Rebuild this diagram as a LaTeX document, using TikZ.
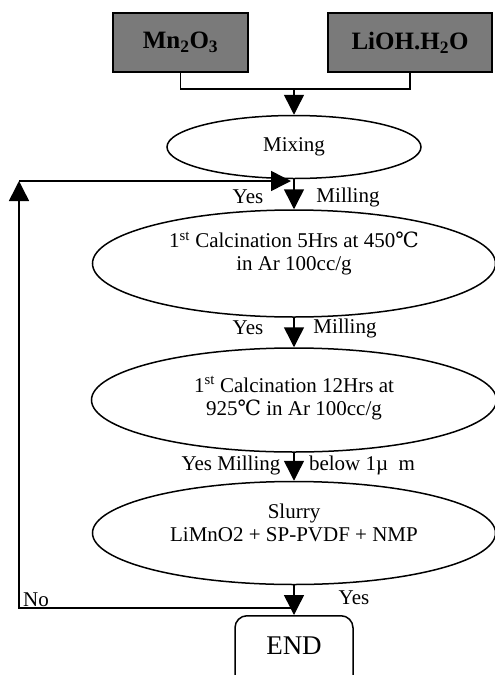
\documentclass[tikz,border=0pt]{standalone}
\usepackage{fontspec}
\setmainfont{Liberation Serif}
\newfontfamily\degfont{DejaVu Serif}
\usetikzlibrary{shapes.geometric,arrows.meta}
\newcommand{\celsius}{{\degfont ℃}}

\begin{document}
\begin{tikzpicture}[x=1pt, y=-1pt, >={Triangle[width=20pt,length=20pt]},
  line width=1.5pt,
  rawbox/.style={draw, line width=1.8pt, fill=black!52,
    font=\fontsize{25}{26}\selectfont\bfseries, inner sep=0pt},
  oval/.style={draw, ellipse, inner sep=0pt},
  txt/.style={align=center, inner sep=0pt, font=\fontsize{21}{23}\selectfont},
  lbl/.style={font=\fontsize{21}{22}\selectfont, inner sep=0pt}]

\useasboundingbox (0,0) rectangle (495,675);

% Materias primas
\node[rawbox, minimum width=135pt, minimum height=59pt] (mn) at (180.5,42.5) {Mn\textsubscript{2}O\textsubscript{3}};
\node[rawbox, minimum width=164pt, minimum height=59pt] (lioh) at (410,42.5) {LiOH.H\textsubscript{2}O};
\coordinate (join) at (294,89);
\draw (mn.south) |- (join) -| (lioh.south);

% Etapas
\node[oval, minimum width=254pt, minimum height=63pt] (mix) at (294,147) {};
\node[txt] (mixtxt) at (mix.center) {Mixing};
\node[oval, minimum width=403pt, minimum height=107pt] (calc1) at (294,263.5) {};
\node[txt] (calc1txt) at ([yshift=10pt]calc1.center)
  {1\textsuperscript{st} Calcination 5Hrs at 450\celsius\\in Ar 100cc/g};
\node[oval, minimum width=405pt, minimum height=104pt] (calc2) at (294,400) {};
\node[txt] (calc2txt) at ([yshift=2pt]calc2.center)
  {1\textsuperscript{st} Calcination 12Hrs at\\925\celsius\ in Ar 100cc/g};
\node[oval, minimum width=403pt, minimum height=103pt] (slurry) at (294,533) {};
\node[txt] (slurrytxt) at ([yshift=10pt]slurry.center)
  {Slurry\\LiMnO2 + SP-PVDF + NMP};
\node[draw, rounded corners=12pt, minimum width=118pt, inner ysep=15pt,
  text height=24pt, text depth=50pt, anchor=north,
  font=\fontsize{27}{28}\selectfont] (end) at (294,615) {END};

% Flechas
\draw[->] (join) -- (mix.north);
\draw[->] (mix.south) -- (calc1.north);
\draw[->] (calc1.south) -- (calc2.north);
\draw[->] (calc2.south) -- (slurry.north);
\draw[->] (slurry.south) -- (end.north);

% Retorno
\coordinate (nojoin) at (294,608);
\coordinate (fbtop) at (19,181);
\coordinate (fbend) at (291,181);
\draw[->] (nojoin) -| (fbtop);
\draw[->] (fbtop) -- (fbend);

% Etiquetas
\node[lbl] (yes1) at (248,197) {Yes};
\node[lbl] (mill1) at (348,197) {Milling};
\node[lbl] (yes2) at (248,328) {Yes};
\node[lbl] (mill2) at (345,328) {Milling};
\node[lbl] (mill3) at (231,465) {Yes Milling};
\node[lbl] (below) at (362,465) {below 1µ\ \ m};
\node[lbl] (no) at (36,600) {No};
\node[lbl] (yes4) at (354,598) {Yes};

\end{tikzpicture}
\end{document}
